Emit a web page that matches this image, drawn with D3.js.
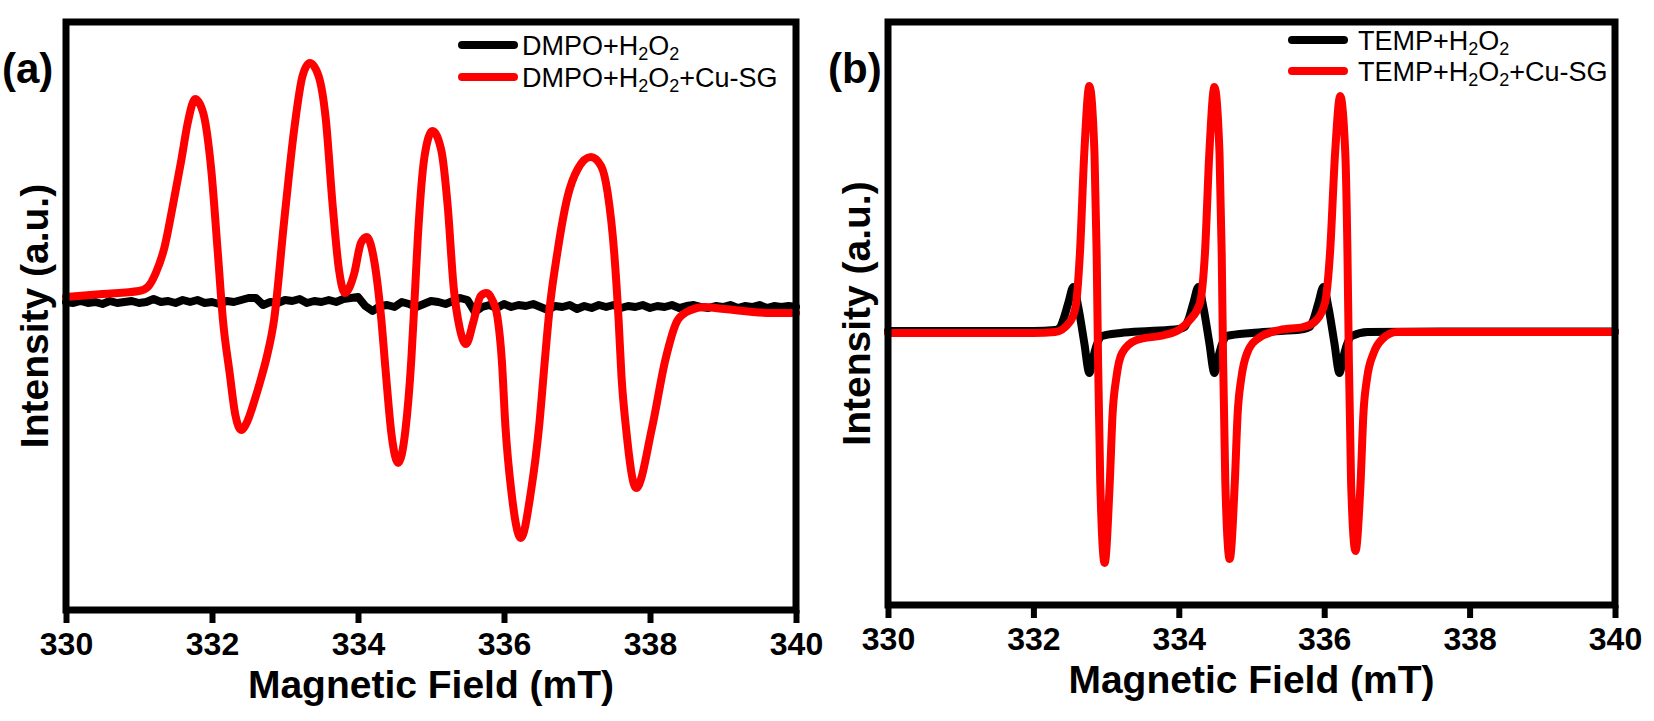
<!DOCTYPE html>
<html>
<head>
<meta charset="utf-8">
<script src="https://cdn.jsdelivr.net/npm/d3@7"></script>
<style>
  html, body { margin: 0; padding: 0; background: #fff; }
  svg { display: block; }
  text { font-family: "Liberation Sans", Arial, sans-serif; fill: #000; }
</style>
</head>
<body>
<div id="chart"></div>
<script>
// x ticks shared by both panels (mT)
var fieldTicks = [330, 332, 334, 336, 338, 340];

// (a) DMPO + H2O2, [field mT, intensity a.u.]
var dmpoBlank = [
  [330.0,-0.05],[330.1,-0.06],[330.2,-0.04],[330.3,-0.06],[330.4,-0.05],[330.5,-0.07],[330.6,-0.04],
  [330.7,-0.06],[330.8,-0.05],[330.9,-0.04],[331.0,-0.06],[331.1,-0.05],[331.2,-0.02],[331.3,-0.05],
  [331.4,-0.04],[331.5,-0.06],[331.6,-0.03],[331.7,-0.05],[331.8,-0.03],[331.9,-0.06],[332.0,-0.05],
  [332.1,-0.07],[332.2,-0.04],[332.3,-0.05],[332.4,-0.03],[332.5,-0.01],[332.6,-0.01],[332.7,-0.08],
  [332.8,-0.05],[332.9,-0.06],[333.0,-0.03],[333.1,-0.04],[333.2,-0.02],[333.3,-0.06],[333.4,-0.04],
  [333.5,-0.05],[333.6,-0.03],[333.7,-0.05],[333.8,-0.02],[333.9,-0.01],[334.0,0.00],[334.1,-0.09],
  [334.2,-0.14],[334.3,-0.09],[334.4,-0.08],[334.5,-0.10],[334.6,-0.05],[334.7,-0.07],[334.8,-0.10],
  [334.9,-0.07],[335.0,-0.04],[335.1,-0.05],[335.2,-0.07],[335.3,-0.04],[335.4,-0.01],[335.5,-0.03],
  [335.6,-0.15],[335.7,-0.10],[335.8,-0.08],[335.9,-0.11],[336.0,-0.07],[336.1,-0.10],[336.2,-0.08],
  [336.3,-0.09],[336.4,-0.07],[336.5,-0.10],[336.6,-0.13],[336.7,-0.09],[336.8,-0.10],[336.9,-0.08],
  [337.0,-0.12],[337.1,-0.09],[337.2,-0.11],[337.3,-0.08],[337.4,-0.10],[337.5,-0.08],[337.6,-0.11],
  [337.7,-0.09],[337.8,-0.10],[337.9,-0.08],[338.0,-0.11],[338.1,-0.09],[338.2,-0.10],[338.3,-0.08],
  [338.4,-0.11],[338.5,-0.09],[338.6,-0.08],[338.7,-0.10],[338.8,-0.11],[338.9,-0.09],[339.0,-0.10],
  [339.1,-0.08],[339.2,-0.11],[339.3,-0.09],[339.4,-0.10],[339.5,-0.08],[339.6,-0.11],[339.7,-0.09],
  [339.8,-0.10],[339.9,-0.09],[340.0,-0.10]
];

// (a) DMPO + H2O2 + Cu-SG
var dmpoCuSG = [
  [330.0,0.00],[330.5,0.03],[331.0,0.06],[331.12,0.10],[331.23,0.24],[331.35,0.50],[331.46,0.90],
  [331.58,1.37],[331.67,1.75],[331.77,1.98],[331.88,1.84],[331.99,1.27],[332.08,0.44],[332.15,-0.23],
  [332.24,-0.75],[332.32,-1.18],[332.40,-1.33],[332.48,-1.25],[332.58,-1.04],[332.67,-0.82],[332.75,-0.60],
  [332.85,-0.23],[332.99,0.77],[333.13,1.70],[333.24,2.21],[333.34,2.34],[333.46,2.21],[333.56,1.77],
  [333.65,0.94],[333.74,0.27],[333.82,0.04],[333.95,0.24],[334.04,0.54],[334.12,0.60],[334.22,0.37],
  [334.32,-0.23],[334.38,-0.75],[334.46,-1.38],[334.55,-1.66],[334.65,-1.33],[334.73,-0.63],[334.77,-0.10],
  [334.82,0.60],[334.91,1.40],[335.02,1.66],[335.14,1.47],[335.23,0.90],[335.31,0.10],[335.39,-0.30],
  [335.48,-0.47],[335.58,-0.25],[335.68,0.01],[335.76,0.04],[335.84,-0.03],[335.91,-0.20],[335.97,-0.63],
  [336.02,-1.30],[336.10,-1.94],[336.23,-2.41],[336.37,-1.94],[336.48,-1.30],[336.56,-0.63],[336.62,-0.15],
  [336.73,0.44],[336.87,1.00],[337.01,1.28],[337.19,1.40],[337.33,1.31],[337.42,1.04],[337.51,0.44],
  [337.57,-0.23],[337.61,-0.80],[337.67,-1.30],[337.81,-1.91],[338.03,-1.30],[338.21,-0.63],[338.38,-0.23],
  [338.56,-0.13],[338.74,-0.10],[339.02,-0.12],[339.66,-0.16],[340.0,-0.16]
];

// (b) TEMP + H2O2
var tempBlank = [
  [330.0,0.02],[332.0,0.02],[332.30,0.03],[332.36,0.05],[332.41,0.13],[332.48,0.30],[332.55,0.46],
  [332.62,0.25],[332.70,-0.10],[332.77,-0.40],[332.82,-0.25],[332.87,-0.12],[332.94,-0.03],[333.20,0.00],
  [333.60,0.02],[334.00,0.04],[334.08,0.06],[334.13,0.13],[334.20,0.30],[334.27,0.46],[334.34,0.25],
  [334.42,-0.10],[334.49,-0.40],[334.54,-0.25],[334.59,-0.12],[334.66,-0.03],[335.00,0.00],[335.40,0.02],
  [335.72,0.04],[335.80,0.06],[335.85,0.13],[335.92,0.30],[335.99,0.46],[336.06,0.25],[336.14,-0.10],
  [336.21,-0.40],[336.26,-0.25],[336.31,-0.12],[336.38,-0.03],[336.60,0.01],[338.0,0.015],[340.0,0.015]
];

// (b) TEMP + H2O2 + Cu-SG
var tempCuSG = [
  [330.0,0.00],[331.0,0.00],[332.0,0.00],[332.30,0.01],[332.50,0.11],[332.58,0.26],[332.64,0.80],
  [332.70,1.80],[332.77,2.47],[332.84,1.80],[332.87,0.80],[332.89,-0.30],[332.92,-1.50],[332.98,-2.30],
  [333.05,-1.50],[333.09,-0.80],[333.14,-0.45],[333.22,-0.20],[333.42,-0.07],[333.80,-0.02],[334.00,0.03],
  [334.15,0.13],[334.29,0.30],[334.36,0.80],[334.42,1.80],[334.49,2.46],[334.56,1.80],[334.59,0.80],
  [334.61,-0.30],[334.64,-1.50],[334.70,-2.26],[334.77,-1.50],[334.81,-0.80],[334.86,-0.45],[334.94,-0.20],
  [335.10,-0.05],[335.39,0.03],[335.71,0.06],[335.85,0.10],[336.01,0.30],[336.08,0.80],[336.15,1.80],
  [336.22,2.37],[336.29,1.80],[336.32,0.80],[336.34,-0.30],[336.37,-1.50],[336.43,-2.18],[336.50,-1.50],
  [336.54,-0.80],[336.59,-0.45],[336.68,-0.20],[336.80,-0.06],[337.00,0.01],[338.50,0.01],[340.0,0.01]
];

// legend labels, split as [text, subscript, text, subscript, text]
var legendA = [["DMPO+H", "2", "O", "2", ""], ["DMPO+H", "2", "O", "2", "+Cu-SG"]];
var legendB = [["TEMP+H", "2", "O", "2", ""], ["TEMP+H", "2", "O", "2", "+Cu-SG"]];
var seriesColors = ["#000000", "#ff0000"];

var panels = [
  { tag: "(a)", tagX: 2, left: 66, right: 796, top: 22, bottom: 610, yDomain: [-3.13, 2.75],
    series: [dmpoBlank, dmpoCuSG], curves: [d3.curveLinear, d3.curveMonotoneX],
    legend: legendA, legX: 462, legLen: 52, legTextX: 522, legY: [45, 77] },
  { tag: "(b)", tagX: 828, left: 888, right: 1615, top: 22, bottom: 605, yDomain: [-2.72, 3.11],
    series: [tempBlank, tempCuSG], curves: [d3.curveMonotoneX, d3.curveMonotoneX],
    legend: legendB, legX: 1292, legLen: 52, legTextX: 1358, legY: [40, 71] }
];

var svg = d3.select("#chart").append("svg")
  .attr("width", 1654)
  .attr("height", 721);

function drawPanel(p) {
  var x = d3.scaleLinear().domain([330, 340]).range([p.left, p.right]);
  var y = d3.scaleLinear().domain(p.yDomain).range([p.bottom, p.top]);
  var g = svg.append("g");

  // spectra, blank first so the red trace sits on top
  p.series.forEach(function(data, i) {
    var line = d3.line()
      .x(function(d) { return x(d[0]); })
      .y(function(d) { return y(d[1]); })
      .curve(p.curves[i]);
    g.append("path")
      .datum(data)
      .attr("d", line)
      .attr("fill", "none")
      .attr("stroke", seriesColors[i])
      .attr("stroke-width", 8)
      .attr("stroke-linejoin", "round")
      .attr("stroke-linecap", "round");
  });

  // frame
  g.append("rect")
    .attr("x", p.left).attr("y", p.top)
    .attr("width", p.right - p.left).attr("height", p.bottom - p.top)
    .attr("fill", "none").attr("stroke", "#000").attr("stroke-width", 7);

  // x axis
  var ax = g.append("g")
    .attr("transform", "translate(0," + p.bottom + ")")
    .call(d3.axisBottom(x).tickValues(fieldTicks).tickSize(13).tickPadding(9).tickFormat(d3.format("d")));
  ax.select(".domain").remove();
  ax.selectAll(".tick line").attr("stroke", "#000").attr("stroke-width", 6);
  ax.selectAll(".tick text")
    .attr("fill", "#000")
    .style("font-size", "32px")
    .style("font-weight", "bold")
    .style("font-family", "'Liberation Sans', Arial, sans-serif");

  // axis titles
  g.append("text")
    .attr("x", (p.left + p.right) / 2)
    .attr("y", p.bottom + 88)
    .attr("text-anchor", "middle")
    .style("font-size", "39px").style("font-weight", "bold")
    .text("Magnetic Field (mT)");

  g.append("text")
    .attr("transform", "translate(" + (p.left - 18) + "," + ((p.top + p.bottom) / 2) + ") rotate(-90)")
    .attr("text-anchor", "middle")
    .style("font-size", "39px").style("font-weight", "bold")
    .text("Intensity (a.u.)");

  // panel tag
  g.append("text")
    .attr("x", p.tagX).attr("y", 83)
    .style("font-size", "42px").style("font-weight", "bold")
    .text(p.tag);

  // legend
  p.legend.forEach(function(parts, i) {
    var ly = p.legY[i];
    g.append("line")
      .attr("x1", p.legX).attr("x2", p.legX + p.legLen)
      .attr("y1", ly).attr("y2", ly)
      .attr("stroke", seriesColors[i]).attr("stroke-width", 8)
      .attr("stroke-linecap", "round");
    var t = g.append("text")
      .attr("x", p.legTextX).attr("y", ly + 10)
      .style("font-size", "27px");
    parts.forEach(function(s, k) {
      if (s === "") return;
      var sub = k % 2 === 1;
      t.append("tspan")
        .attr("dy", sub ? 5 : (k > 0 ? -5 : 0))
        .style("font-size", sub ? "18px" : "27px")
        .text(s);
    });
  });
}

panels.forEach(drawPanel);
</script>
</body>
</html>
